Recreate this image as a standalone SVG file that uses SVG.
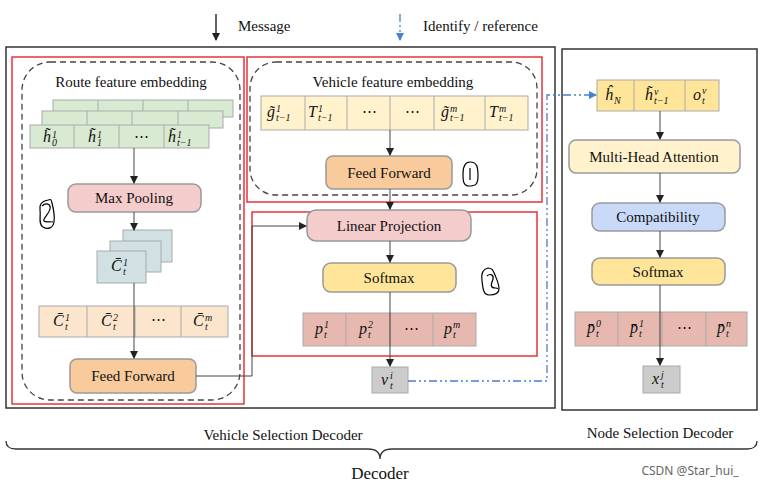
<svg xmlns="http://www.w3.org/2000/svg" width="766" height="489" viewBox="0 0 766 489">
<defs>
<marker id="ah" markerWidth="8" markerHeight="8" refX="7" refY="4" orient="auto" markerUnits="userSpaceOnUse"><path d="M0,0 L8,4 L0,8 z" fill="#222"/></marker>
<marker id="bh" markerWidth="8" markerHeight="8" refX="7" refY="4" orient="auto" markerUnits="userSpaceOnUse"><path d="M0,0 L8,4 L0,8 z" fill="#4a7fd4"/></marker>
<style>
text{font-family:"Liberation Serif","DejaVu Serif",serif;fill:#111}
.lb{font-family:"Liberation Serif","DejaVu Serif",serif;font-size:15px;text-anchor:middle}
.m{font-family:"Liberation Serif","DejaVu Serif",serif;font-size:16px;font-style:italic}
.s{font-size:10px}
.box{stroke:#999;stroke-width:1.5}
.cell{stroke:#aaa;stroke-width:1}
.ln{stroke:#444;stroke-width:1;fill:none}
.dd{stroke:#4a7fd4;stroke-width:1.3;fill:none;stroke-dasharray:8 3 2 3 2 3}
.red{fill:none;stroke:#e8323a;stroke-width:1.5}
.dash{fill:none;stroke:#444;stroke-width:1.3;stroke-dasharray:6 4}
.g{fill:#d9ead3}.pk{fill:#f4cccc}.ol{fill:#fce5cd}.of{fill:#f9cb9c}.yl{fill:#fff2cc}.ys{fill:#ffe599}.bl{fill:#c9daf8}.pp{fill:#e6b8af}.gr{fill:#cccccc}.cb{fill:#d0e0e3}
.hand{fill:none;stroke:#000;stroke-width:1.2}
</style>
</defs>
<g id="legend">
<line x1="216" y1="14" x2="216" y2="40" stroke="#111" stroke-width="1.3" marker-end="url(#ah)"/>
<text x="238" y="31" font-size="15">Message</text>
<line x1="400" y1="14" x2="400" y2="40" class="dd" marker-end="url(#bh)"/>
<text x="423" y="31" font-size="15">Identify / reference</text>
</g>
<g id="frames">
<rect x="6" y="47" width="549" height="361" fill="none" stroke="#333" stroke-width="1.5"/>
<rect x="562" y="49" width="195" height="361" fill="none" stroke="#333" stroke-width="1.5"/>
<rect x="12" y="57" width="232" height="347" class="red"/>
<rect x="247" y="57" width="295" height="145" class="red"/>
<rect x="252" y="212" width="285" height="144" class="red"/>
<rect x="22" y="62" width="218" height="338" rx="28" class="dash"/>
<rect x="250" y="62" width="287" height="133" rx="26" class="dash"/>
</g>
<g id="route">
<text x="131" y="87" class="lb">Route feature embedding</text>
<rect x="53" y="100" width="180" height="17" class="g cell"/>
<path d="M98 100v17M143 100v17M188 100v17" class="cell"/>
<rect x="42" y="111" width="181" height="17" class="g cell"/>
<path d="M87 111v17M132 111v17M178 111v17" class="cell"/>
<rect x="30" y="125" width="179" height="23" class="g cell"/>
<path d="M74 125v23M119 125v23M164 125v23" class="cell"/>
<text x="43" y="142" class="m">h̃<tspan class="s" x="52" y="138">1</tspan><tspan class="s" x="52" y="146">0</tspan></text>
<text x="88" y="142" class="m">h̃<tspan class="s" x="97" y="138">1</tspan><tspan class="s" x="97" y="146">1</tspan></text>
<text x="141" y="141" class="lb">⋯</text>
<text x="168" y="142" class="m">h̃<tspan class="s" x="177" y="138">1</tspan><tspan class="s" x="177" y="146">t−1</tspan></text>
</g>
<g id="maxpool">
<rect x="68" y="184" width="133" height="28" rx="8" class="pk box"/>
<text x="134" y="203" class="lb">Max Pooling</text>
</g>
<g id="cstack">
<rect x="123" y="230" width="49" height="32" class="cb cell"/>
<rect x="110" y="241" width="51" height="31" class="cb cell"/>
<rect x="97" y="251" width="49" height="32" class="cb cell"/>
<text x="111" y="271" class="m">C̄<tspan class="s" x="123" y="266">1</tspan><tspan class="s" x="123" y="275">t</tspan></text>
</g>
<g id="crow">
<rect x="39" y="306" width="189" height="31" class="ol cell"/>
<path d="M87 306v31M135 306v31M181 306v31" class="cell"/>
<text x="53" y="326" class="m">C̄<tspan class="s" x="65" y="321">1</tspan><tspan class="s" x="65" y="330">t</tspan></text>
<text x="101" y="326" class="m">C̄<tspan class="s" x="113" y="321">2</tspan><tspan class="s" x="113" y="330">t</tspan></text>
<text x="158" y="324" class="lb">⋯</text>
<text x="193" y="326" class="m">C̄<tspan class="s" x="205" y="321">m</tspan><tspan class="s" x="205" y="330">t</tspan></text>
</g>
<g id="ff1">
<rect x="70" y="359" width="126" height="34" rx="7" class="of box"/>
<text x="133" y="381" class="lb">Feed Forward</text>
</g>
<g id="vehicle">
<text x="393" y="87" class="lb">Vehicle feature embedding</text>
<rect x="261" y="96" width="267" height="34" class="yl cell"/>
<path d="M305 96v34M347 96v34M390 96v34M434 96v34M485 96v34" class="cell"/>
<text x="267" y="117" class="m">g̃<tspan class="s" x="276" y="112">1</tspan><tspan class="s" x="276" y="121">t−1</tspan></text>
<text x="308" y="117" class="m">T<tspan class="s" x="318" y="112">1</tspan><tspan class="s" x="318" y="121">t−1</tspan></text>
<text x="369" y="116" class="lb">⋯</text>
<text x="412" y="116" class="lb">⋯</text>
<text x="441" y="117" class="m">g̃<tspan class="s" x="450" y="112">m</tspan><tspan class="s" x="450" y="121">t−1</tspan></text>
<text x="489" y="117" class="m">T<tspan class="s" x="499" y="112">m</tspan><tspan class="s" x="499" y="121">t−1</tspan></text>
</g>
<g id="ff2">
<rect x="326" y="156" width="126" height="33" rx="7" class="of box"/>
<text x="389" y="178" class="lb">Feed Forward</text>
</g>
<g id="linproj">
<rect x="307" y="210" width="164" height="31" rx="9" class="pk box"/>
<text x="389" y="231" class="lb">Linear Projection</text>
</g>
<g id="softmax1">
<rect x="323" y="263" width="133" height="29" rx="8" class="ys box"/>
<text x="389" y="283" class="lb">Softmax</text>
</g>
<g id="prow">
<rect x="303" y="313" width="173" height="33" class="pp cell"/>
<path d="M346 313v33M390 313v33M433 313v33" class="cell"/>
<text x="315" y="334" class="m">p<tspan class="s" x="324" y="328">1</tspan><tspan class="s" x="324" y="338">t</tspan></text>
<text x="359" y="334" class="m">p<tspan class="s" x="368" y="328">2</tspan><tspan class="s" x="368" y="338">t</tspan></text>
<text x="411" y="333" class="lb">⋯</text>
<text x="444" y="334" class="m">p<tspan class="s" x="453" y="328">m</tspan><tspan class="s" x="453" y="338">t</tspan></text>
</g>
<g id="vti">
<rect x="372" y="367" width="36" height="26" class="gr cell"/>
<text x="381" y="385" class="m">v<tspan class="s" x="390" y="379">i</tspan><tspan class="s" x="390" y="389">t</tspan></text>
</g>
<g id="nodehdr">
<rect x="597" y="80" width="122" height="31" class="ys cell"/>
<path d="M634 80v31M685 80v31" class="cell"/>
<text x="605" y="100" class="m">ĥ<tspan class="s" x="614" y="104">N</tspan></text>
<text x="645" y="100" class="m">h̃<tspan class="s" x="654" y="95">v</tspan><tspan class="s" x="654" y="104">t−1</tspan></text>
<text x="693" y="100" class="m">o<tspan class="s" x="702" y="94">v</tspan><tspan class="s" x="702" y="104">t</tspan></text>
</g>
<g id="mha">
<rect x="569" y="140" width="171" height="33" rx="7" class="yl box"/>
<text x="654" y="162" class="lb">Multi-Head Attention</text>
</g>
<g id="compat">
<rect x="592" y="203" width="133" height="28" rx="8" class="bl box"/>
<text x="658" y="222" class="lb">Compatibility</text>
</g>
<g id="softmax2">
<rect x="592" y="258" width="133" height="27" rx="8" class="ys box"/>
<text x="658" y="277" class="lb">Softmax</text>
</g>
<g id="pbar">
<rect x="575" y="312" width="172" height="34" class="pp cell"/>
<path d="M618 312v34M662 312v34M706 312v34" class="cell"/>
<text x="587" y="333" class="m">p̄<tspan class="s" x="596" y="327">0</tspan><tspan class="s" x="596" y="337">t</tspan></text>
<text x="630" y="333" class="m">p̄<tspan class="s" x="639" y="327">1</tspan><tspan class="s" x="639" y="337">t</tspan></text>
<text x="684" y="332" class="lb">⋯</text>
<text x="717" y="333" class="m">p̄<tspan class="s" x="726" y="327">n</tspan><tspan class="s" x="726" y="337">t</tspan></text>
</g>
<g id="xtj">
<rect x="643" y="366" width="37" height="27" class="gr cell"/>
<text x="652" y="384" class="m">x<tspan class="s" x="661" y="378">j</tspan><tspan class="s" x="661" y="388">t</tspan></text>
</g>
<g id="connectors">
<line x1="134" y1="148" x2="134" y2="183" class="ln" marker-end="url(#ah)"/>
<line x1="134" y1="212" x2="134" y2="230" class="ln" marker-end="url(#ah)"/>
<line x1="134" y1="283" x2="134" y2="358" class="ln" marker-end="url(#ah)"/>
<polyline points="196,376 252,376 252,226 306,226" class="ln" marker-end="url(#ah)"/>
<line x1="390" y1="130" x2="390" y2="155" class="ln" marker-end="url(#ah)"/>
<line x1="390" y1="189" x2="390" y2="209" class="ln" marker-end="url(#ah)"/>
<line x1="390" y1="241" x2="390" y2="262" class="ln" marker-end="url(#ah)"/>
<line x1="390" y1="292" x2="390" y2="366" class="ln" marker-end="url(#ah)"/>
<polyline points="408,381 547,381 547,95 596,95" class="dd" marker-end="url(#bh)"/>
<line x1="660" y1="111" x2="660" y2="139" class="ln" marker-end="url(#ah)"/>
<line x1="660" y1="173" x2="660" y2="202" class="ln" marker-end="url(#ah)"/>
<line x1="660" y1="231" x2="660" y2="257" class="ln" marker-end="url(#ah)"/>
<line x1="660" y1="285" x2="660" y2="365" class="ln" marker-end="url(#ah)"/>
</g>
<g id="annotations">
<path class="hand" d="M48 200c-6 1-9 4-8 10s-2 14 3 17 10 1 11-5-1-15-2-19-1-4-4-3z"/>
<path class="hand" d="M42 206c4-4 9-2 8 3s-8 10-6 12 6 0 9 1"/>
<path class="hand" d="M470 162c-6 0-7 6-7 12s0 12 6 12 9-1 9-10-1-14-8-14z"/>
<path class="hand" d="M470 168v12"/>
<path class="hand" d="M488 268c-5 1-7 6-6 13s1 14 7 14 10-1 10-6-2-9-4-14-3-7-7-7z"/>
<path class="hand" d="M487 276c3-3 7-1 6 3s-3 6-1 8 5 0 6 2"/>
</g>
<g id="bottom">
<text x="283" y="440" class="lb">Vehicle Selection Decoder</text>
<text x="660" y="438" class="lb">Node Selection Decoder</text>
<path d="M6 441q0 8 10 8h352q12 0 12 10q0-10 12-10h355q10 0 10-8" fill="none" stroke="#333" stroke-width="1.3"/>
<text x="380" y="479" font-size="17" text-anchor="middle">Decoder</text>
<text x="690" y="475" font-size="12" text-anchor="middle" style="font-family:'Noto Sans',sans-serif;fill:#666">CSDN @Star_hui_</text>
</g>
</svg>
